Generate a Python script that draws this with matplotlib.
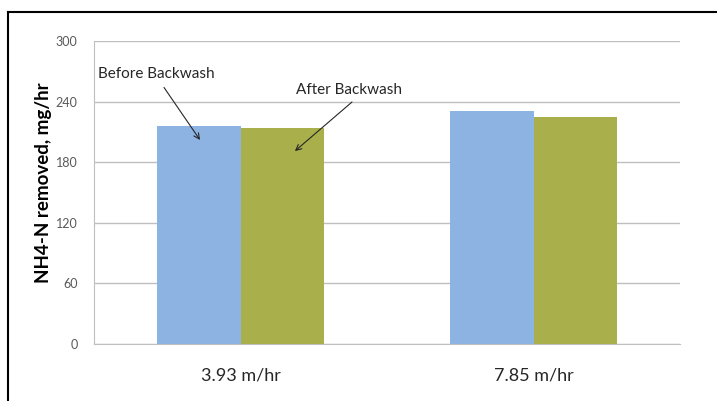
import matplotlib
matplotlib.use("Agg")
import matplotlib.pyplot as plt
import numpy as np
from matplotlib.lines import Line2D

categories = ["3.93 m/hr", "7.85 m/hr"]
before = [216, 231]
after = [214, 225]
yticks = [0, 60, 120, 180, 240, 300]

plt.rcParams['font.family'] = ['Lato', 'DejaVu Sans']

fig = plt.figure(figsize=(7.17, 4.01), dpi=100)
ax = fig.add_axes([94.3/717, 1-344/401, (680-94.3)/717, (344-41)/401])

x = np.arange(len(categories))
w = 0.285
ax.bar(x - w/2, before, width=w, color="#8DB3E2", zorder=3)
ax.bar(x + w/2, after, width=w, color="#A9B04B", zorder=3)

ax.set_xlim(-0.5, 1.5)
ax.set_ylim(0, 300)
ax.set_yticks(yticks)
ax.set_xticks(x)
ax.set_xticklabels(categories, fontsize=13, color="#262626")
ax.tick_params(axis='x', length=0, pad=17)
ax.tick_params(axis='y', length=0, pad=12, labelsize=9, labelcolor="#595959")
ax.grid(axis='y', color="#BFBFBF", lw=1, zorder=0)
for s in ['top', 'right']:
    ax.spines[s].set_visible(False)
ax.spines['left'].set_color("#BFBFBF")
ax.spines['bottom'].set_color("#BFBFBF")
ax.set_ylabel("NH4-N removed, mg/hr", fontsize=13.5, fontweight='bold')
ax.yaxis.set_label_coords(-0.072, 0.531)

ax.text(-0.487, 263.7, "Before Backwash", fontsize=11, color="#262626", ha='left', va='baseline')
ax.text(0.188, 247.2, "After Backwash", fontsize=11, color="#262626", ha='left', va='baseline')
ax.annotate("", xy=(-0.139, 202), xytext=(-0.262, 254),
            arrowprops=dict(arrowstyle='->', color='#262626', lw=0.8, shrinkA=0, shrinkB=0))
ax.annotate("", xy=(0.185, 191), xytext=(0.380, 239.6),
            arrowprops=dict(arrowstyle='->', color='#262626', lw=0.8, shrinkA=0, shrinkB=0))

fig.add_artist(Line2D([8/717, 8/717], [0, 1-12/401], transform=fig.transFigure, color='black', lw=1.5))
fig.add_artist(Line2D([8/717, 1], [1-12/401, 1-12/401], transform=fig.transFigure, color='black', lw=1.5))

fig.savefig("out.png", dpi=100)
